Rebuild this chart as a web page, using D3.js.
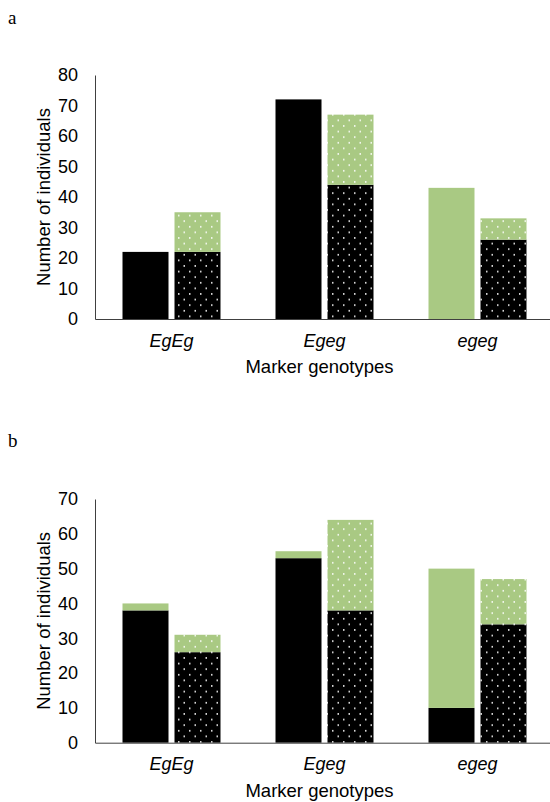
<!DOCTYPE html>
<html lang="en">
<head>
  <meta charset="UTF-8">
  <title>Marker genotypes - stacked bars</title>
  <script src="https://d3js.org/d3.v7.min.js"></script>
  <style>
    body {
      margin: 0;
      background: #fff;
    }
    text {
      font-family: "Liberation Sans", Arial, sans-serif;
      fill: #000;
    }
    .panel-letter {
      font-family: "Liberation Serif", "Times New Roman", serif;
      font-size: 19px;
    }
    .axis text {
      font-size: 18px;
    }
    .axis-label {
      font-size: 18.5px;
    }
  </style>
</head>
<body>
  <svg width="550" height="802"></svg>

  <script>
    // Data
    const categories = ["EgEg", "Egeg", "egeg"];

    // panel a
    const solidBlackA = [22, 72, 0];
    const solidGreenA = [0, 0, 43];
    const dottedBlackA = [22, 44, 26];
    const dottedGreenA = [13, 23, 7];
    const yTicksA = [0, 10, 20, 30, 40, 50, 60, 70, 80];

    // panel b
    const solidBlackB = [38, 53, 10];
    const solidGreenB = [2, 2, 40];
    const dottedBlackB = [26, 38, 34];
    const dottedGreenB = [5, 26, 13];
    const yTicksB = [0, 10, 20, 30, 40, 50, 60, 70];

    const green = "#a9c983";
    const svg = d3.select("svg");

    // dotted fills
    const defs = svg.append("defs");
    [["dotBlack", "#000"], ["dotGreen", green]].forEach(([id, bg]) => {
      const p = defs.append("pattern")
        .attr("id", id)
        .attr("patternUnits", "userSpaceOnUse")
        .attr("width", 11)
        .attr("height", 11.2);
      p.append("rect").attr("width", 11).attr("height", 11.2).attr("fill", bg);
      p.append("rect").attr("x", 2).attr("y", 2).attr("width", 1.5).attr("height", 1.5)
        .attr("fill", "#fff");
      p.append("rect").attr("x", 7.5).attr("y", 7.6).attr("width", 1.5).attr("height", 1.5)
        .attr("fill", "#fff");
    });

    const left = 95, right = 554;

    const x = d3.scaleBand()
      .domain(categories)
      .range([left, right]);

    // two bars per genotype
    const kinds = ["solid", "dotted"];
    const x1 = d3.scaleBand()
      .domain(kinds)
      .range([27.5, 125.5])
      .paddingInner(6 / 52);

    function drawPanel(letter, letterY, top, bottom, maxY, ticks, sb, sg, db, dg) {
      const y = d3.scaleLinear().domain([0, maxY]).range([bottom, top]);
      const g = svg.append("g");

      g.append("text")
        .attr("class", "panel-letter")
        .attr("x", 8)
        .attr("y", letterY)
        .text(letter);

      const rows = categories.map((c, i) => ({
        cat: c,
        solid: { black: sb[i], green: sg[i] },
        dotted: { black: db[i], green: dg[i] }
      }));

      const stack = d3.stack().keys(["black", "green"]);
      const fills = {
        solid: { black: "#000", green: green },
        dotted: { black: "url(#dotBlack)", green: "url(#dotGreen)" }
      };

      kinds.forEach(kind => {
        const series = stack(rows.map(r => r[kind]));
        series.forEach(s => {
          g.selectAll(null)
            .data(s.map((d, i) => ({ d, cat: categories[i] })))
            .enter()
            .append("rect")
              .attr("x", e => x(e.cat) + x1(kind))
              .attr("y", e => y(e.d[1]))
              .attr("width", x1.bandwidth())
              .attr("height", e => y(e.d[0]) - y(e.d[1]))
              .attr("fill", fills[kind][s.key]);
        });
      });

      // Y axis
      const ya = g.append("g")
        .attr("class", "axis")
        .attr("transform", `translate(${left},0)`)
        .call(d3.axisLeft(y).tickValues(ticks).tickSize(0).tickPadding(17));
      ya.select(".domain").attr("stroke", "#404040");

      // X axis
      const xa = g.append("g")
        .attr("class", "axis")
        .attr("transform", `translate(0,${bottom})`)
        .call(d3.axisBottom(x).tickSize(0).tickSizeOuter(0).tickPadding(15));
      xa.select(".domain").attr("stroke", "#404040");
      xa.selectAll("text").style("font-style", "italic");

      // axis titles
      g.append("text")
        .attr("class", "axis-label")
        .attr("x", (left + right) / 2 - 5)
        .attr("y", bottom + 54)
        .attr("text-anchor", "middle")
        .text("Marker genotypes");

      g.append("text")
        .attr("class", "axis-label")
        .attr("transform", "rotate(-90)")
        .attr("x", -(top + bottom) / 2)
        .attr("y", 50)
        .attr("text-anchor", "middle")
        .text("Number of individuals");
    }

    drawPanel("a", 24, 75, 319, 80, yTicksA, solidBlackA, solidGreenA, dottedBlackA, dottedGreenA);
    drawPanel("b", 447, 499, 742.7, 70, yTicksB, solidBlackB, solidGreenB, dottedBlackB, dottedGreenB);
  </script>
</body>
</html>
